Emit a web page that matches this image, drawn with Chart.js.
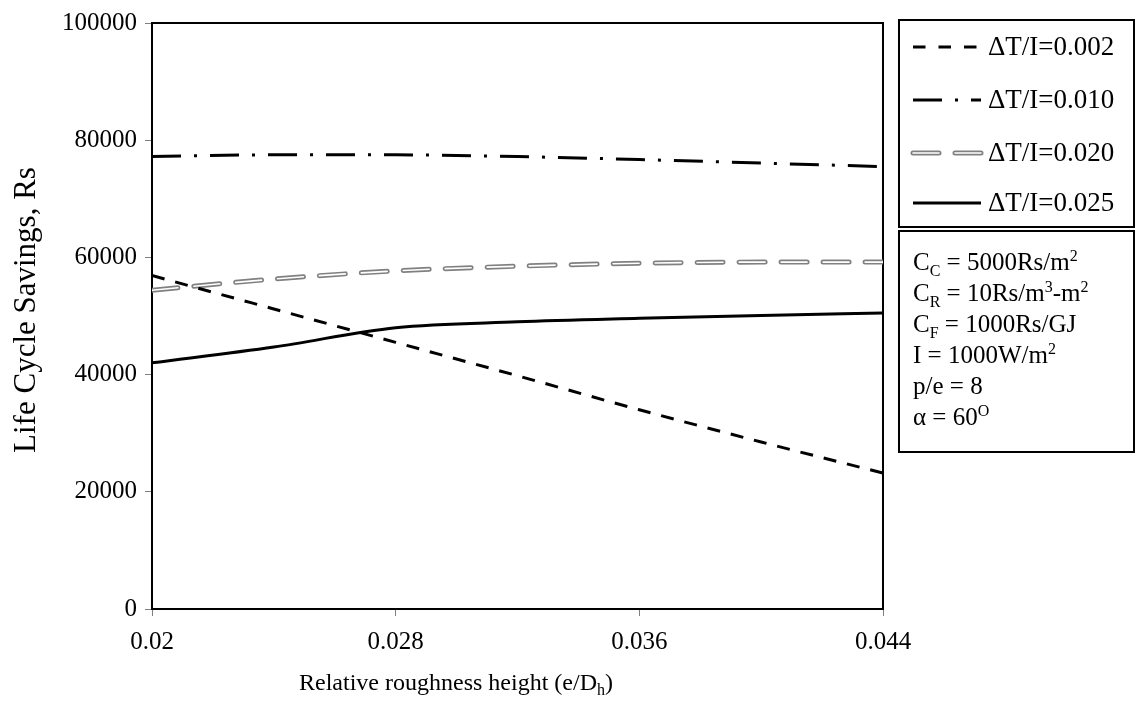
<!DOCTYPE html>
<html>
<head>
<meta charset="utf-8">
<script src="https://cdn.jsdelivr.net/npm/chart.js@4/dist/chart.umd.min.js"></script>
<style>
  html, body { margin: 0; padding: 0; background: #fff; }
  #wrap { width: 1136px; height: 711px; }
</style>
</head>
<body>
<div id="wrap"><canvas id="lcsChart"></canvas></div>
<script>
// relative roughness height e/Dh
const roughness = [0.020, 0.024, 0.028, 0.032, 0.036, 0.040, 0.044];
const xTickValues = [0.02, 0.028, 0.036, 0.044];
const yTickValues = [0, 20000, 40000, 60000, 80000, 100000];

// life cycle savings (Rs)
const lcs002 = [56900, 51200, 45500, 39800, 34000, 28500, 23200];
const lcs010 = [77200, 77500, 77500, 77200, 76700, 76100, 75500];
const lcs020 = [54400, 56300, 57700, 58500, 59000, 59200, 59200];
const lcs025 = [42000, 44700, 48000, 49000, 49600, 50100, 50500];

const seriesNames = ['ΔT/I=0.002', 'ΔT/I=0.010', 'ΔT/I=0.020', 'ΔT/I=0.025'];

const xTitle = [{ t: 'Relative roughness height (e/D' }, { t: 'h', s: 'sub' }, { t: ')' }];
const yTitle = 'Life Cycle Savings, Rs';

// parameter box, one array per line
const noteLines = [
  [{ t: 'C' }, { t: 'C', s: 'sub' }, { t: ' = 5000Rs/m' }, { t: '2', s: 'sup' }],
  [{ t: 'C' }, { t: 'R', s: 'sub' }, { t: ' = 10Rs/m' }, { t: '3', s: 'sup' }, { t: '-m' }, { t: '2', s: 'sup' }],
  [{ t: 'C' }, { t: 'F', s: 'sub' }, { t: ' = 1000Rs/GJ' }],
  [{ t: 'I = 1000W/m' }, { t: '2', s: 'sup' }],
  [{ t: 'p/e = 8' }],
  [{ t: 'α = 60' }, { t: 'O', s: 'sup' }]
];

const FONT = '"Liberation Serif", "Times New Roman", serif';
const GREY = '#808080';

const styles = [
  { color: '#000', width: 3, dash: [13, 11], legendDash: [12.5, 13], cap: 'butt' },
  { color: '#000', width: 3, dash: [29, 13, 3, 13], cap: 'butt' },
  { color: GREY, width: 5, dash: [26, 16], cap: 'round', inner: '#fff', innerWidth: 1.6 },
  { color: '#000', width: 3, dash: [], cap: 'butt' }
];

function pts(arr) {
  return roughness.map((x, i) => ({ x: x, y: arr[i] }));
}

function richWidth(ctx, segs, size) {
  let w = 0;
  segs.forEach(sg => {
    ctx.font = (sg.s ? Math.round(size * 0.65) : size) + 'px ' + FONT;
    w += ctx.measureText(sg.t).width;
  });
  return w;
}

function drawRich(ctx, segs, x, y, size) {
  ctx.textBaseline = 'alphabetic';
  ctx.textAlign = 'left';
  segs.forEach(sg => {
    let fs = size, dy = 0;
    if (sg.s === 'sub') { fs = Math.round(size * 0.65); dy = size * 0.22; }
    if (sg.s === 'sup') { fs = Math.round(size * 0.65); dy = -size * 0.38; }
    ctx.font = fs + 'px ' + FONT;
    ctx.fillText(sg.t, x, y + dy);
    x += ctx.measureText(sg.t).width;
  });
}

function strokeSample(ctx, st, x1, x2, y) {
  ctx.save();
  ctx.lineCap = st.cap;
  ctx.strokeStyle = st.color;
  ctx.lineWidth = st.width;
  ctx.setLineDash(st.legendDash || st.dash);
  ctx.beginPath(); ctx.moveTo(x1, y); ctx.lineTo(x2, y); ctx.stroke();
  if (st.inner) {
    ctx.strokeStyle = st.inner;
    ctx.lineWidth = st.innerWidth;
    ctx.beginPath(); ctx.moveTo(x1, y); ctx.lineTo(x2, y); ctx.stroke();
  }
  ctx.restore();
}

const decorations = {
  id: 'decorations',
  beforeDatasetsDraw(chart) {
    const { ctx, chartArea: a } = chart;
    ctx.save();
    ctx.strokeStyle = '#000';
    ctx.lineWidth = 2;
    ctx.beginPath();
    ctx.moveTo(a.left, a.top); ctx.lineTo(a.right, a.top); ctx.lineTo(a.right, a.bottom);
    ctx.stroke();
    ctx.restore();
  },
  afterDraw(chart) {
    const { ctx } = chart;
    ctx.save();
    ctx.fillStyle = '#000';

    // axis titles
    const xs = 24;
    const xw = richWidth(ctx, xTitle, xs);
    drawRich(ctx, xTitle, 456 - xw / 2, 690, xs);

    ctx.save();
    ctx.translate(35, 310);
    ctx.rotate(-Math.PI / 2);
    ctx.font = '31px ' + FONT;
    ctx.textAlign = 'center';
    ctx.textBaseline = 'alphabetic';
    ctx.fillText(yTitle, 0, 0);
    ctx.restore();

    // legend box
    ctx.strokeStyle = '#000';
    ctx.lineWidth = 2;
    ctx.strokeRect(899, 20, 235, 207);
    const rowY = [47, 100, 153, 203];
    seriesNames.forEach((name, i) => {
      strokeSample(ctx, styles[i], 913, 981, rowY[i]);
      ctx.font = '27px ' + FONT;
      ctx.textAlign = 'left';
      ctx.textBaseline = 'middle';
      ctx.fillText(name, 988, rowY[i] + 1);
    });

    // parameter box
    ctx.strokeRect(899, 231, 235, 221);
    noteLines.forEach((line, i) => {
      drawRich(ctx, line, 913, 270 + i * 31, 25);
    });
    ctx.restore();
  }
};

const datasets = [];
[lcs002, lcs010, lcs020, lcs025].forEach((arr, i) => {
  const st = styles[i];
  datasets.push({
    label: seriesNames[i],
    data: pts(arr),
    borderColor: st.color,
    borderWidth: st.width,
    borderDash: st.dash,
    borderCapStyle: st.cap,
    pointRadius: 0,
    cubicInterpolationMode: 'monotone',
    fill: false,
    order: 2
  });
  if (st.inner) {
    datasets.push({
      label: seriesNames[i] + ' inner',
      data: pts(arr),
      borderColor: st.inner,
      borderWidth: st.innerWidth,
      borderDash: st.dash,
      borderCapStyle: st.cap,
      pointRadius: 0,
      cubicInterpolationMode: 'monotone',
      fill: false,
      order: 1
    });
  }
});

new Chart(document.getElementById('lcsChart'), {
  type: 'line',
  data: { datasets: datasets },
  options: {
    responsive: true,
    maintainAspectRatio: false,
    animation: false,
    layout: { padding: { left: 0, top: 18, right: 253, bottom: 0 } },
    plugins: { legend: { display: false }, tooltip: { enabled: false } },
    scales: {
      x: {
        type: 'linear',
        min: 0.02,
        max: 0.044,
        afterBuildTicks(scale) { scale.ticks = xTickValues.map(v => ({ value: v })); },
        afterFit(scale) { scale.height = 102; },
        grid: { drawOnChartArea: false, color: GREY, tickLength: 7 },
        border: { color: '#000', width: 2 },
        ticks: {
          color: '#000',
          font: { family: FONT, size: 25 },
          padding: 11,
          maxRotation: 0,
          callback: v => String(v)
        }
      },
      y: {
        min: 0,
        max: 100000,
        afterBuildTicks(scale) { scale.ticks = yTickValues.map(v => ({ value: v })); },
        afterFit(scale) { scale.width = 152; },
        grid: { drawOnChartArea: false, color: GREY, tickLength: 7 },
        border: { color: '#000', width: 2 },
        ticks: {
          color: '#000',
          font: { family: FONT, size: 25 },
          padding: 8,
          callback: v => String(v)
        }
      }
    }
  },
  plugins: [decorations]
});
</script>
</body>
</html>
